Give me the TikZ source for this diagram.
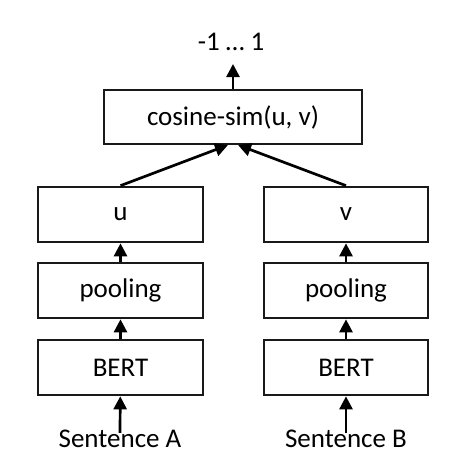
\documentclass[tikz,border=0pt]{standalone}
\usepackage{fontspec}
\setmainfont{Carlito}
\usetikzlibrary{arrows.meta}
\begin{document}
\begin{tikzpicture}[x=1pt,y=-1pt,
  box/.style={draw=black!90,line width=2.7pt,inner sep=0pt,minimum width=165pt,minimum height=55pt,font=\fontsize{27}{32}\selectfont},
  lbl/.style={inner sep=0pt,font=\fontsize{27}{32}\selectfont},
  arr/.style={-{Triangle[length=13pt,width=13pt]},line width=2.7pt,draw=black}]
\useasboundingbox (0,0) rectangle (461,464);
\node[box,minimum width=258pt,minimum height=54pt] (cos) at (233,117) {cosine-sim(u, v)};
\node[box] (u) at (120.5,214.5) {u};
\node[box] (pa) at (120.5,290.5) {pooling};
\node[box] (ba) at (120.5,367.5) {BERT};
\node[box,minimum width=164pt] (v) at (346,214.5) {v};
\node[box,minimum width=164pt] (pb) at (346,290.5) {pooling};
\node[box,minimum width=164pt] (bb) at (346,367.5) {BERT};
\node[lbl] (sa) at (120,439) {Sentence A};
\node[lbl] (sb) at (346,439) {Sentence B};
\node[lbl] (out) at (231,42) {-1 … 1};
\coordinate (outtip) at (233,64);
\coordinate (cl) at (228,145);
\coordinate (cr) at (238,145);
\draw[arr] (cos.north) -- (outtip);
\draw[arr] (u.north) -- (cl);
\draw[arr] (v.north) -- (cr);
\draw[arr] (pa) -- (u);
\draw[arr] (ba) -- (pa);
\draw[arr] ([yshift=-3pt]sa.north) -- (ba);
\draw[arr] (pb) -- (v);
\draw[arr] (bb) -- (pb);
\draw[arr] ([yshift=-3pt]sb.north) -- (bb);
\end{tikzpicture}
\end{document}
